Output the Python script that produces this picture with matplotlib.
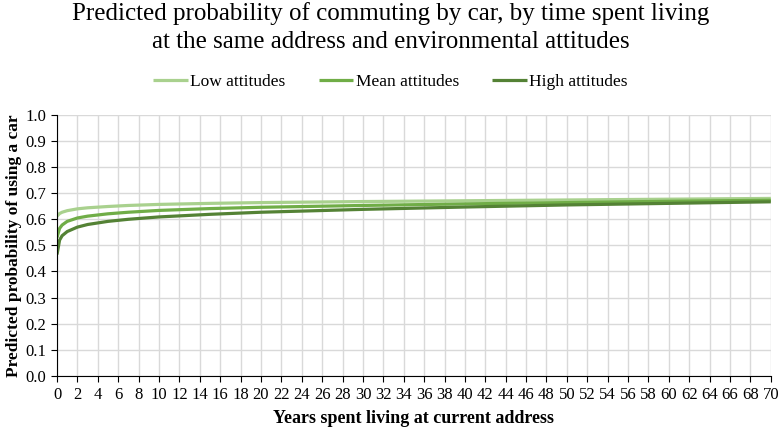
import numpy as np
import matplotlib.pyplot as plt

plt.rcParams['font.family'] = ['Liberation Serif', 'DejaVu Serif']

# years spent living at current address
years = [0, 0.25, 0.5, 1, 2, 3, 5, 7, 10, 15, 20, 30, 40, 50, 60, 70]
low = [0.612, 0.622, 0.627, 0.633, 0.640, 0.644, 0.649, 0.653, 0.657,
       0.661, 0.664, 0.668, 0.671, 0.674, 0.677, 0.680]
mean = [0.530, 0.565, 0.578, 0.592, 0.605, 0.612, 0.621, 0.627, 0.634,
        0.641, 0.646, 0.653, 0.659, 0.664, 0.669, 0.673]
high = [0.465, 0.520, 0.537, 0.553, 0.570, 0.580, 0.592, 0.600, 0.609,
        0.619, 0.627, 0.638, 0.647, 0.655, 0.661, 0.667]

fig = plt.figure(figsize=(7.81, 4.32), dpi=100)
ax = fig.add_axes([0.073, 0.130, 0.914, 0.604])

ax.plot(years, low, color='#a9d18e', lw=2.3, label='Low attitudes', solid_capstyle='butt')
ax.plot(years, mean, color='#70ad47', lw=2.3, label='Mean attitudes', solid_capstyle='butt')
ax.plot(years, high, color='#548235', lw=2.3, label='High attitudes', solid_capstyle='butt')

ax.set_xlim(0, 70)
ax.set_ylim(0, 1.0)
ax.set_xticks(np.arange(0, 71, 2))
ax.set_yticks(np.arange(0, 1.01, 0.1))
ax.set_yticklabels(['%.1f' % v for v in np.arange(0, 1.01, 0.1)])
ax.grid(True, color='#d9d9d9', lw=1.0)
ax.set_axisbelow(True)
for s in ['top', 'right']:
    ax.spines[s].set_visible(False)
ax.spines['left'].set_color('black')
ax.spines['bottom'].set_color('black')
ax.tick_params(axis='both', labelsize=12, length=4, direction='out', colors='black')
ax.tick_params(axis='x', pad=4)

ax.set_xlabel('Years spent living at current address', fontsize=13, fontweight='bold', labelpad=5)
ax.set_ylabel('Predicted probability of using a car', fontsize=12.5, fontweight='bold', labelpad=3)

fig.suptitle('Predicted probability of commuting by car, by time spent living\nat the same address and environmental attitudes',
             fontsize=18, y=0.995, linespacing=1.35)
fig.legend(loc='center', bbox_to_anchor=(0.5, 0.81), ncol=3, frameon=False,
           fontsize=12.5, handlelength=2.0, handletextpad=0.15, columnspacing=1.9)

fig.savefig('out.png', dpi=100)
